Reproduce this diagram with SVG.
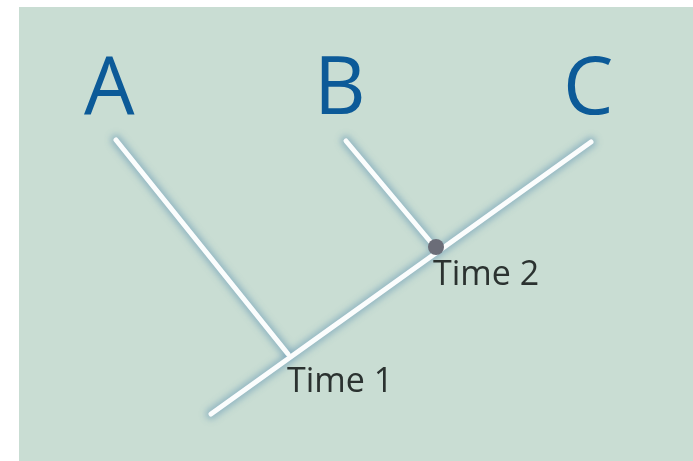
<svg xmlns="http://www.w3.org/2000/svg" width="693" height="461" viewBox="0 0 693 461">
<style>
.bg{fill:#c9ddd3}
.glow{stroke:#6f9fb8;stroke-width:11;stroke-linecap:round;fill:none;opacity:0.6}
.line{stroke:#fbfdfd;stroke-width:5;stroke-linecap:round;fill:none}
.big{font-family:"Open Sans","Liberation Sans",sans-serif;font-size:80px;font-weight:500;fill:#0c5a98}
.lbl{font-family:"Open Sans","Liberation Sans",sans-serif;font-size:34px;fill:#2b3230}
</style>
<defs>
<filter id="blur" x="-20%" y="-20%" width="140%" height="140%"><feGaussianBlur stdDeviation="3"/></filter>
</defs>
<rect x="0" y="0" width="693" height="461" fill="#ffffff"/>
<rect class="bg" x="19" y="7" width="674" height="454"/>
<g id="connectors">
<g filter="url(#blur)">
<line class="glow" x1="116" y1="140" x2="288" y2="354"/>
<line class="glow" x1="346" y1="141" x2="434" y2="246"/>
<line class="glow" x1="211" y1="414" x2="591" y2="142"/>
</g>
<line class="line" x1="116" y1="140" x2="288" y2="354"/>
<line class="line" x1="346" y1="141" x2="434" y2="246"/>
<line class="line" x1="211" y1="414" x2="591" y2="142"/>
</g>
<g id="A"><text class="big" x="84" y="114">A</text></g>
<g id="B"><text class="big" x="314" y="114">B</text></g>
<g id="C"><text class="big" x="563" y="114">C</text></g>
<g id="time2">
<circle cx="436" cy="247" r="8" fill="#6b6d78"/>
<text class="lbl" x="433" y="285">Time 2</text>
</g>
<g id="time1">
<text class="lbl" x="287" y="392">Time 1</text>
</g>
</svg>
